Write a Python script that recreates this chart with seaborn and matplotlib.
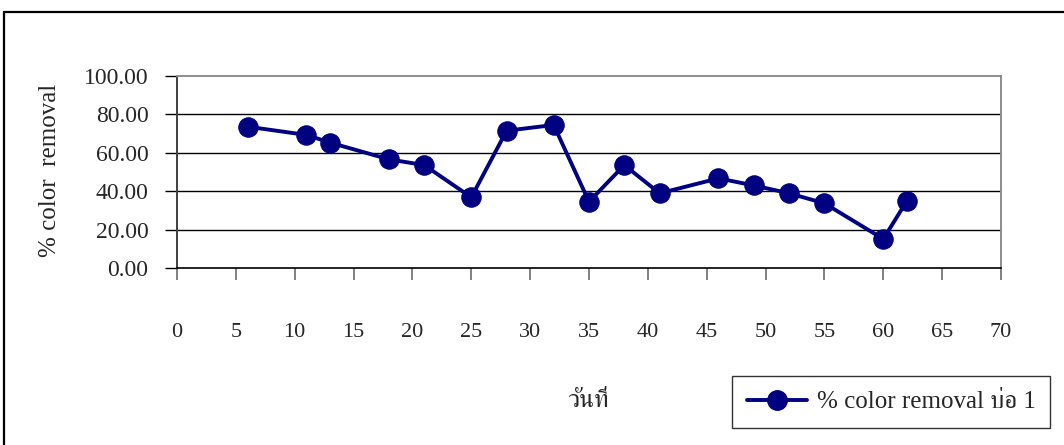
import numpy as np
import pandas as pd
import seaborn as sns
import matplotlib
matplotlib.use("Agg")
import matplotlib.pyplot as plt
from matplotlib import font_manager
from matplotlib.ft2font import FT2Font
from matplotlib.lines import Line2D

# Sampling day and colour-removal percentage for pond 1
days = [6, 11, 13, 18, 21, 25, 28, 32, 35, 38, 41, 46, 49, 52, 55, 60, 62]
removal = [73.6, 69.3, 65.3, 56.6, 53.6, 36.8, 71.5, 74.5, 34.5, 53.6,
           38.9, 46.7, 43.0, 38.9, 33.7, 15.1, 34.9]
series_name = "% color removal บ่อ 1"
x_title = "วันที่"
y_title = "% color  removal"
x_ticks = list(range(0, 75, 5))
y_ticks = [0, 20, 40, 60, 80, 100]


def thai_family():
    """Return an installed family that has Thai glyphs, preferring serif faces."""
    found = []
    for f in font_manager.fontManager.ttflist:
        try:
            cmap = FT2Font(f.fname).get_charmap()
        except Exception:
            continue
        if all(ord(c) in cmap for c in "วันที่บ่อ"):
            found.append(f.name)
    if not found:
        return None
    serif = [n for n in found if "Serif" in n or "serif" in n]
    return (serif or found)[0]


sns.set_theme(style="white")
families = ["Liberation Serif"]
th = thai_family()
if th:
    families.append(th)
families.append("DejaVu Sans")
plt.rcParams["font.family"] = families

df = pd.DataFrame({"day": days, "removal": removal, "series": series_name})

W, H = 1064, 445
fig = plt.figure(figsize=(W / 100, H / 100), dpi=100)
fig.patch.set_facecolor("white")
ax = fig.add_axes([177 / W, 1 - 268 / H, (1001 - 177) / W, (268 - 76) / H])
ax.set_facecolor("white")

navy = "#000080"
sns.lineplot(data=df, x="day", y="removal", ax=ax, color=navy, linewidth=2.8,
             marker="o", markersize=14, markeredgecolor=navy,
             markerfacecolor=navy, legend=False, zorder=5)

ax.set_xlim(0, 70)
ax.set_ylim(0, 100)
ax.set_xticks(x_ticks)
ax.set_yticks(y_ticks)
ax.set_xticklabels([str(v) for v in x_ticks])
ax.set_yticklabels([f"{v:.2f}" for v in y_ticks])

# horizontal gridlines
for v in y_ticks[1:-1]:
    ax.axhline(v, color="black", linewidth=1.0, zorder=1)

for side in ["top", "right"]:
    ax.spines[side].set_color("#8c8c8c")
    ax.spines[side].set_linewidth(1.4)
ax.spines["left"].set_color("#404040")
ax.spines["left"].set_linewidth(1.4)
ax.spines["bottom"].set_color("black")
ax.spines["bottom"].set_linewidth(1.2)

ax.tick_params(axis="y", direction="out", length=8.6, width=1.0, color="black",
               pad=12, labelsize=17, left=True)
ax.tick_params(axis="x", direction="out", length=8.6, width=1.4, color="#808080",
               pad=31, labelsize=16, bottom=True)

ax.set_xlabel(x_title, fontsize=18)
ax.xaxis.set_label_coords((588 - 177) / (1001 - 177), (268 - 390) / (268 - 76))
ax.set_ylabel(y_title, fontsize=18)
ax.yaxis.set_label_coords((61 - 177) / (1001 - 177), (268 - 170) / (268 - 76))

handle = Line2D([], [], color=navy, linewidth=2.8, marker="o", markersize=14,
                markerfacecolor=navy, markeredgecolor=navy)
leg = ax.legend([handle], [series_name], loc="center",
                bbox_to_anchor=(891 / W, 1 - 402 / H), bbox_transform=fig.transFigure,
                frameon=True, fancybox=False, shadow=False, fontsize=18,
                handlelength=2.4, handletextpad=0.4, borderpad=0.6,
                borderaxespad=0)
leg.get_frame().set_edgecolor("black")
leg.get_frame().set_linewidth(1.0)
leg.get_frame().set_facecolor("white")

# outer frame of the chart area (left and top edges)
fig.add_artist(Line2D([4 / W, 4 / W], [0, 1 - 12 / H], color="black",
                      linewidth=1.6, transform=fig.transFigure))
fig.add_artist(Line2D([4 / W, 1], [1 - 12 / H, 1 - 12 / H], color="black",
                      linewidth=1.6, transform=fig.transFigure))

fig.savefig("out.png", dpi=100, facecolor="white")
